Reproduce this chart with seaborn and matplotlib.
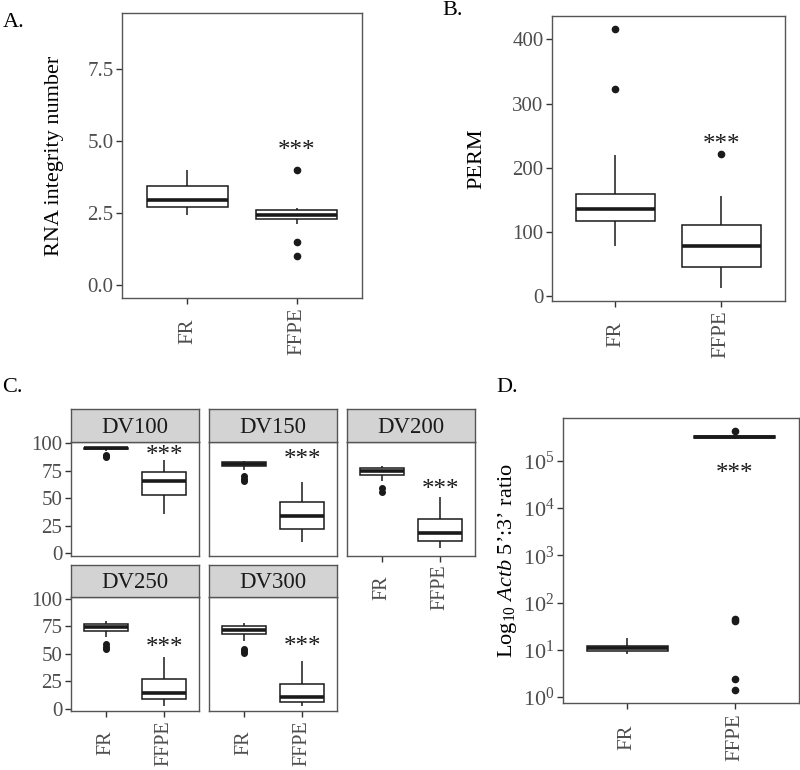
import matplotlib
matplotlib.use("Agg")
import matplotlib.pyplot as plt
from matplotlib.ticker import NullLocator
import pandas as pd
import seaborn as sns

groups = ["FR", "FFPE"]

# A. RNA integrity number
rin_fr = [2.43, 2.71, 2.95, 3.44, 4.0]
rin_ffpe = [1.0, 1.5, 2.12, 2.3, 2.35, 2.4, 2.45, 2.5, 2.55, 2.6, 2.64, 2.67, 4.0]

# B. PERM
perm_fr = [77.8, 95.0, 108.0, 116.7, 125.0, 130.0, 135.9, 145.0, 152.0, 159.8, 219.5, 323.0, 416.0]
perm_ffpe = [12.9, 30.0, 45.6, 60.0, 77.8, 95.0, 111.6, 156.0, 222.0]

# C. DV metrics
dv_names = ["DV100", "DV150", "DV200", "DV250", "DV300"]
dv100_fr = [87.5, 88.5, 89.8, 93.0, 94.5, 94.8, 95.1, 95.3, 95.5, 95.7, 95.9, 96.0, 96.2, 96.3, 96.4, 96.5, 96.6]
dv100_ffpe = [35.5, 53.0, 65.7, 73.6, 84.8]
dv150_fr = [66.0, 68.0, 70.5, 76.0, 79.0, 79.8, 80.4, 80.9, 81.3, 81.7, 82.0, 82.4, 82.8, 83.0, 83.3, 83.5, 83.8]
dv150_ffpe = [10.5, 22.0, 34.2, 47.0, 65.0]
dv200_fr = [56.0, 59.0, 65.7, 71.5, 73.0, 74.0, 74.8, 76.0, 77.0, 78.0, 78.5, 79.0, 79.6]
dv200_ffpe = [5.0, 11.2, 18.5, 31.2, 51.0]
dv250_fr = [54.0, 56.0, 58.5, 65.6, 70.8, 71.6, 72.4, 73.2, 74.0, 74.7, 75.4, 76.2, 77.0, 77.6, 78.2, 78.8, 79.5]
dv250_ffpe = [2.6, 8.8, 14.4, 26.5, 46.6]
dv300_fr = [50.5, 52.5, 54.5, 61.5, 67.5, 68.5, 69.6, 70.7, 71.8, 72.7, 73.6, 74.6, 75.5, 76.1, 76.7, 77.3, 78.0]
dv300_ffpe = [2.5, 6.2, 11.0, 22.7, 43.0]

# D. Actb 5':3' ratio
actb_fr = [8.3, 9.6, 10.8, 12.3, 17.4]
actb_ffpe = [1.4, 2.4, 40.0, 45.0, 2.9e5, 3.0e5, 3.05e5, 3.1e5, 3.15e5, 3.18e5, 3.2e5,
             3.22e5, 3.25e5, 3.27e5, 3.28e5, 3.3e5, 3.32e5, 3.35e5, 3.38e5, 3.4e5, 4.3e5]

# heights of the "***" labels over FFPE
star_rin = 4.9
star_perm = 247
star_dv = [94.5, 91.0, 63.6, 61.5, 62.0]
star_actb = 7.4e4

sns.set_theme(style="white")
plt.rcParams["font.family"] = ["Liberation Serif", "DejaVu Serif"]
plt.rcParams["mathtext.fontset"] = "custom"
plt.rcParams["mathtext.rm"] = "Liberation Serif"
plt.rcParams["mathtext.it"] = "Liberation Serif:italic"

frame_col = "#555555"
tick_col = "#4d4d4d"
ink = "#1a1a1a"


def long_df(fr, ffpe):
    return pd.DataFrame({"group": ["FR"] * len(fr) + ["FFPE"] * len(ffpe),
                         "value": fr + ffpe})


def draw_box(ax, df, log=False, size=4.5, xsize=15, xpad=19.7):
    sns.boxplot(data=df, x="group", y="value", order=groups, ax=ax, width=0.75,
                color="white", linecolor=ink, linewidth=1.1, log_scale=log,
                showcaps=False,
                medianprops={"linewidth": 2.6, "color": ink},
                flierprops={"marker": "o", "markersize": size, "markerfacecolor": ink,
                            "markeredgecolor": ink})
    ax.set_xlim(-0.6, 1.6)
    ax.set_xlabel("")
    ax.set_ylabel("")
    for s in ax.spines.values():
        s.set_visible(True)
        s.set_color(frame_col)
        s.set_linewidth(1.0)
    ax.tick_params(axis="both", which="major", length=4, width=1.0, color="#333333",
                   labelcolor=tick_col, labelsize=15, bottom=True, left=True, pad=2)
    # rotated category labels, centred like ggplot's angle = 90
    ax.tick_params(axis="x", labelsize=xsize, pad=xpad)
    plt.setp(ax.get_xticklabels(), rotation=90, va="center", ha="center")


def stars(ax, y, size=18):
    ax.annotate("***", xy=(1, y), xytext=(0, -5), textcoords="offset points",
                ha="center", va="center", fontsize=size, color=ink, zorder=5)


fig = plt.figure(figsize=(8, 7.7), dpi=100)

# Panel A
ax_a = fig.add_axes([0.1525, 0.613, 0.30, 0.370])
draw_box(ax_a, long_df(rin_fr, rin_ffpe))
ax_a.set_ylim(-0.45, 9.45)
ax_a.set_yticks([0.0, 2.5, 5.0, 7.5])
ax_a.set_yticklabels(["0.0", "2.5", "5.0", "7.5"])
ax_a.set_ylabel("RNA integrity number", fontsize=16, labelpad=17, color="black")
stars(ax_a, star_rin)

# Panel B
ax_b = fig.add_axes([0.69, 0.609, 0.291, 0.370])
draw_box(ax_b, long_df(perm_fr, perm_ffpe))
ax_b.set_yticks([0, 100, 200, 300, 400])
ax_b.set_ylabel("PERM", fontsize=16, labelpad=19, color="black")
stars(ax_b, star_perm)

# Panel C: facets
dv_fr = [dv100_fr, dv150_fr, dv200_fr, dv250_fr, dv300_fr]
dv_ffpe = [dv100_ffpe, dv150_ffpe, dv200_ffpe, dv250_ffpe, dv300_ffpe]
col_x = [0.0884, 0.2609, 0.4334]
row_y = [0.2783, 0.0766]
panel_w, panel_h, strip_h = 0.1608, 0.1477, 0.0422
for i, name in enumerate(dv_names):
    r, c = divmod(i, 3)
    ax = fig.add_axes([col_x[c], row_y[r], panel_w, panel_h])
    draw_box(ax, long_df(dv_fr[i], dv_ffpe[i]), size=4.0, xsize=14.5, xpad=19.0)
    ax.set_ylim(-2.2, 101.3)
    ax.set_yticks([0, 25, 50, 75, 100])
    if c > 0:
        ax.tick_params(axis="y", left=False, labelleft=False)
    if r == 0 and c < 2:
        ax.tick_params(axis="x", bottom=False, labelbottom=False)
    stars(ax, star_dv[i])
    strip = fig.add_axes([col_x[c], row_y[r] + panel_h, panel_w, strip_h])
    strip.set_facecolor("#d3d3d3")
    strip.set_xticks([])
    strip.set_yticks([])
    for s in strip.spines.values():
        s.set_visible(True)
        s.set_color(frame_col)
        s.set_linewidth(1.0)
    strip.text(0.5, 0.45, name, ha="center", va="center", fontsize=16.5,
               color="#1a1a1a", transform=strip.transAxes)

# Panel D
ax_d = fig.add_axes([0.70375, 0.087, 0.295, 0.370])
draw_box(ax_d, long_df(actb_fr, actb_ffpe), log=True, xpad=20.3)
ax_d.yaxis.set_minor_locator(NullLocator())
ax_d.set_ylabel("Log$_{10}$ $\\it{Actb}$ 5\u2019:3\u2019 ratio", fontsize=16, labelpad=3,
                color="black")
ax_d.tick_params(axis="y", labelsize=16)
stars(ax_d, star_actb)

# panel letters
fig.text(0.003, 1 - 27 / 770, "A.", fontsize=16, color="black")
fig.text(0.553, 1 - 15 / 770, "B.", fontsize=16, color="black")
fig.text(0.003, 1 - 392 / 770, "C.", fontsize=16, color="black")
fig.text(0.621, 1 - 392 / 770, "D.", fontsize=16, color="black")

fig.savefig("out.png", dpi=100, facecolor="white")
